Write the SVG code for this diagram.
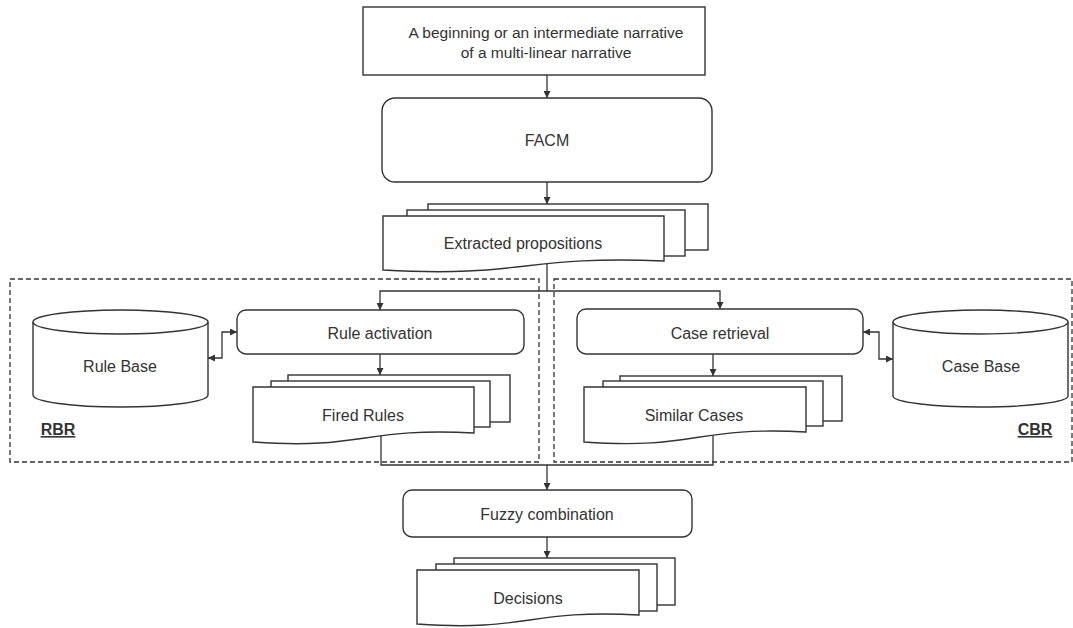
<svg xmlns="http://www.w3.org/2000/svg" width="1073" height="628" viewBox="0 0 1073 628">
<defs>
<style>
.box{fill:#fff;stroke:#333;stroke-width:1.4}
.conn{fill:none;stroke:#333;stroke-width:1.3}
.dash{fill:none;stroke:#333;stroke-width:1.3;stroke-dasharray:5 3}
.t{font-family:"Liberation Sans",Arial,sans-serif;font-size:16px;fill:#333;text-anchor:middle}
.lbl{font-family:"Liberation Sans",Arial,sans-serif;font-size:16px;font-weight:bold;fill:#333;text-anchor:middle;text-decoration:underline}
</style>
<marker id="ah" viewBox="0 0 10 10" refX="10" refY="5" markerWidth="7" markerHeight="7" markerUnits="userSpaceOnUse" orient="auto-start-reverse">
<path d="M0,0 L10,5 L0,10 z" fill="#333"/>
</marker>
</defs>
<rect width="1073" height="628" fill="#fff"/>

<g id="regions">
<rect class="dash" x="10" y="279" width="529" height="183"/>
<rect class="dash" x="554" y="279" width="518" height="183"/>
<text class="lbl" x="58" y="435">RBR</text>
<text class="lbl" x="1035" y="435">CBR</text>
</g>

<g id="connectors">
<line class="conn" x1="547" y1="75" x2="547" y2="98" marker-end="url(#ah)"/>
<line class="conn" x1="547" y1="182" x2="547" y2="204" marker-end="url(#ah)"/>
<polyline class="conn" points="547,262 547,291"/>
<polyline class="conn" points="547,291 380,291 380,310" marker-end="url(#ah)"/>
<polyline class="conn" points="547,291 720,291 720,309" marker-end="url(#ah)"/>
<line class="conn" x1="380" y1="354" x2="380" y2="375" marker-end="url(#ah)"/>
<line class="conn" x1="713" y1="354" x2="713" y2="376" marker-end="url(#ah)"/>
<polyline class="conn" points="237,332 222,332 222,358 208,358" marker-start="url(#ah)" marker-end="url(#ah)"/>
<polyline class="conn" points="863,332 879,332 879,359 893,359" marker-start="url(#ah)" marker-end="url(#ah)"/>
<polyline class="conn" points="381,436 381,465 713,465 713,436"/>
<line class="conn" x1="547" y1="465" x2="547" y2="490" marker-end="url(#ah)"/>
<line class="conn" x1="547" y1="537" x2="547" y2="558" marker-end="url(#ah)"/>
</g>

<g id="narrative">
<rect class="box" x="363" y="7" width="342" height="68"/>
<text class="t" x="546" y="38" style="font-size:15.5px">A beginning or an intermediate narrative</text>
<text class="t" x="546" y="58" style="font-size:15.5px">of a multi-linear narrative</text>
</g>

<g id="facm">
<rect class="box" x="382" y="98" width="330" height="84" rx="13"/>
<text class="t" x="547" y="146">FACM</text>
</g>

<g id="extracted">
<rect class="box" x="428" y="204" width="280" height="46"/>
<rect class="box" x="407" y="210" width="278" height="46"/>
<path class="box" d="M383,216 H664 V261 C523.5,255 523.5,278 383,270 Z"/>
<text class="t" x="523" y="249">Extracted propositions</text>
</g>

<g id="rule-activation">
<rect class="box" x="237" y="310" width="287" height="44" rx="9"/>
<text class="t" x="380" y="339">Rule activation</text>
</g>

<g id="case-retrieval">
<rect class="box" x="577" y="309" width="286" height="45" rx="9"/>
<text class="t" x="720" y="339">Case retrieval</text>
</g>

<g id="rule-base">
<path class="box" d="M33,322 V395 A87.5,12 0 0 0 208,395 V322"/>
<ellipse class="box" cx="120.5" cy="322" rx="87.5" ry="12"/>
<text class="t" x="120" y="372">Rule Base</text>
</g>

<g id="case-base">
<path class="box" d="M893,322 V396 A87.5,11 0 0 0 1068,396 V322"/>
<ellipse class="box" cx="980.5" cy="322" rx="87.5" ry="12"/>
<text class="t" x="981" y="372">Case Base</text>
</g>

<g id="fired-rules">
<rect class="box" x="288" y="375" width="222" height="47"/>
<rect class="box" x="271" y="381" width="219" height="46"/>
<path class="box" d="M253,387 H474 V433 C363.5,427 363.5,450 253,442 Z"/>
<text class="t" x="363" y="421">Fired Rules</text>
</g>

<g id="similar-cases">
<rect class="box" x="620" y="376" width="222" height="45"/>
<rect class="box" x="603" y="381" width="220" height="45"/>
<path class="box" d="M584,387 H806 V432 C695,426 695,450 584,442 Z"/>
<text class="t" x="694" y="421">Similar Cases</text>
</g>

<g id="fuzzy-combination">
<rect class="box" x="403" y="490" width="289" height="47" rx="9"/>
<text class="t" x="547" y="520">Fuzzy combination</text>
</g>

<g id="decisions">
<rect class="box" x="454" y="558" width="221" height="47"/>
<rect class="box" x="436" y="564" width="221" height="47"/>
<path class="box" d="M417,570 H639 V615 C528,609 528,632 417,624 Z"/>
<text class="t" x="528" y="604">Decisions</text>
</g>
</svg>
